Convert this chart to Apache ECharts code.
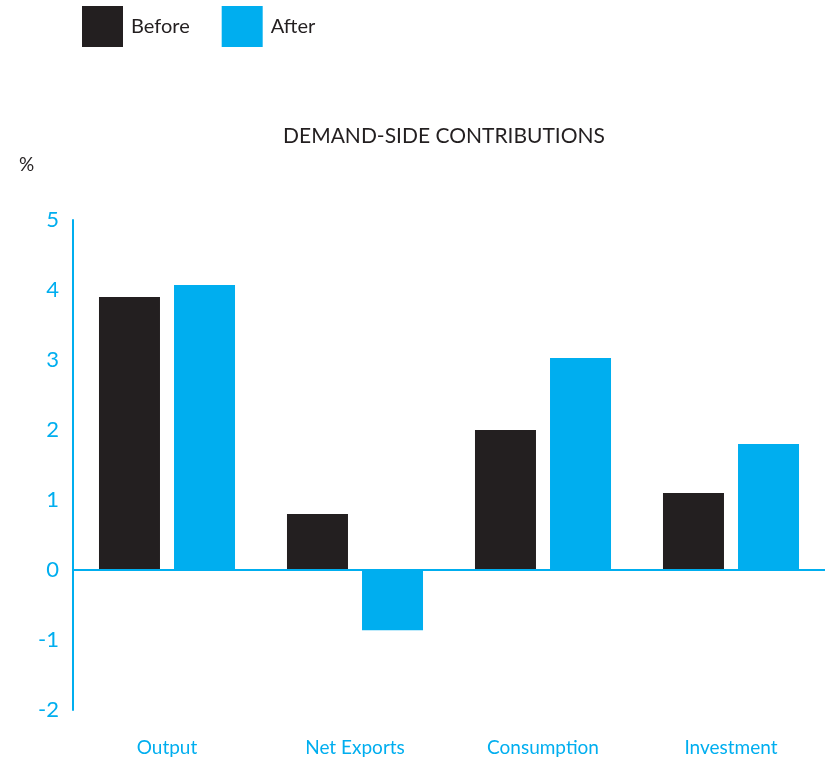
<!DOCTYPE html>
<html>
<head>
<meta charset="utf-8">
<script src="https://cdn.jsdelivr.net/npm/echarts@6/dist/echarts.min.js"></script>
<style>
  html, body { margin: 0; padding: 0; background: #ffffff; }
  #chart { width: 833px; height: 760px; }
</style>
</head>
<body>
<div id="chart"></div>
<script>
// Demand-side contributions, percent
const categories = ['Output', 'Net Exports', 'Consumption', 'Investment'];
const beforeValues = [3.9, 0.8, 2.0, 1.1];
const afterValues = [4.07, -0.86, 3.03, 1.8];
const yTicks = { min: -2, max: 5, step: 1 };

const DARK = '#231F20';
const BLUE = '#00AEEF';
const FONT = 'Lato, "Noto Sans", sans-serif';

const chart = echarts.init(document.getElementById('chart'), null, { renderer: 'canvas' });

chart.setOption({
  animation: false,
  textStyle: { fontFamily: FONT },
  title: {
    text: 'DEMAND-SIDE CONTRIBUTIONS',
    left: 444,
    textAlign: 'center',
    top: 126,
    padding: 0,
    textStyle: { fontFamily: FONT, fontSize: 21, fontWeight: 'normal', color: DARK }
  },
  graphic: [{
    type: 'text',
    left: 19,
    top: 155,
    style: { text: '%', fill: DARK, font: '19px ' + FONT }
  }],
  legend: {
    left: 82,
    top: 6,
    padding: 0,
    itemWidth: 41,
    itemHeight: 41,
    itemGap: 32,
    icon: 'rect',
    textStyle: { fontFamily: FONT, fontSize: 20, color: DARK, padding: [0, 0, 0, 3] },
    data: ['Before', 'After']
  },
  grid: { left: 73, right: 8, top: 220, bottom: 50, containLabel: false },
  xAxis: {
    type: 'category',
    data: categories,
    axisLine: { show: false, onZero: false },
    axisTick: { show: false },
    axisLabel: { color: BLUE, fontSize: 19, margin: 28, fontFamily: FONT },
    splitLine: { show: false }
  },
  yAxis: {
    type: 'value',
    min: yTicks.min,
    max: yTicks.max,
    interval: yTicks.step,
    axisLine: { show: true, lineStyle: { color: BLUE, width: 2 } },
    axisTick: { show: false },
    splitLine: { show: false },
    axisLabel: { color: BLUE, fontSize: 22, margin: 14, fontFamily: FONT }
  },
  series: [
    {
      name: 'Before',
      type: 'bar',
      data: beforeValues,
      barWidth: 61,
      barGap: '23%',
      itemStyle: { color: DARK },
      markLine: {
        silent: true,
        symbol: 'none',
        label: { show: false },
        lineStyle: { color: BLUE, width: 2, type: 'solid' },
        data: [{ yAxis: 0 }]
      }
    },
    {
      name: 'After',
      type: 'bar',
      data: afterValues,
      barWidth: 61,
      itemStyle: { color: BLUE }
    }
  ]
});
</script>
</body>
</html>
